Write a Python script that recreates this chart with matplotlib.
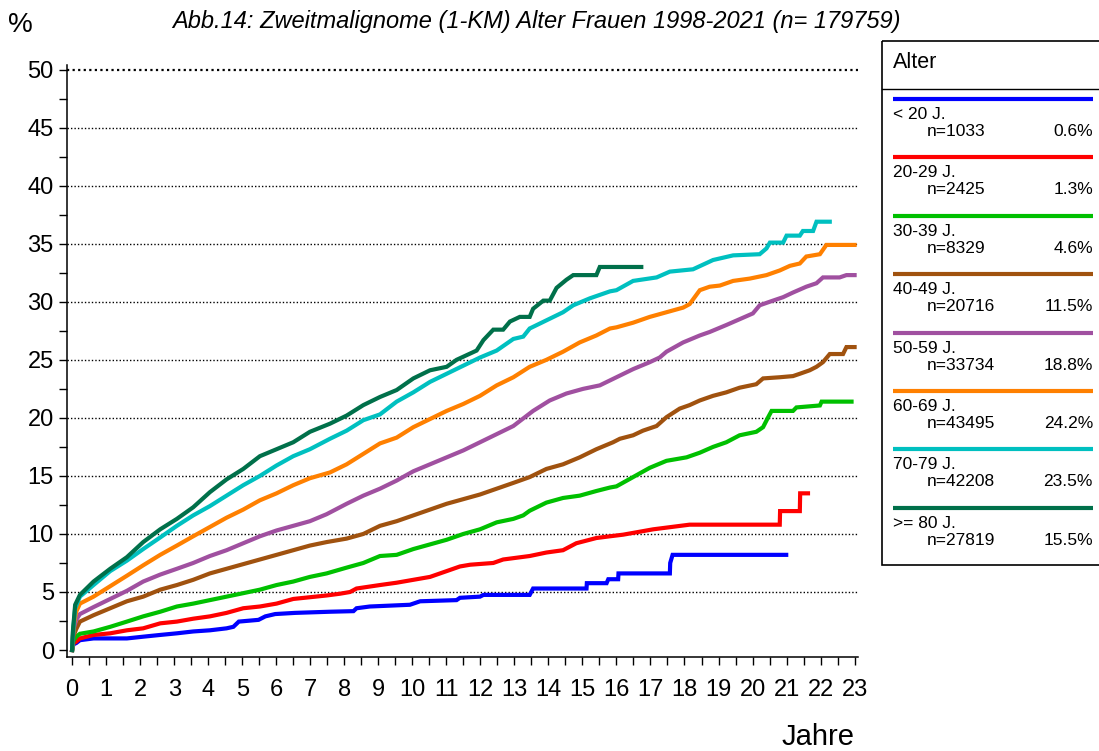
import numpy as np
import matplotlib.pyplot as plt
from matplotlib.ticker import MultipleLocator
from matplotlib.patches import Rectangle

plt.rcParams['font.family'] = ['Liberation Sans', 'DejaVu Sans']

title = 'Abb.14: Zweitmalignome (1-KM) Alter Frauen 1998-2021 (n= 179759)'
groups = ['< 20 J.', '20-29 J.', '30-39 J.', '40-49 J.', '50-59 J.', '60-69 J.', '70-79 J.', '>= 80 J.']
counts = [1033, 2425, 8329, 20716, 33734, 43495, 42208, 27819]
shares = ['0.6%', '1.3%', '4.6%', '11.5%', '18.8%', '24.2%', '23.5%', '15.5%']
colors = ['#0000ff', '#ff0000', '#00c000', '#a0520f', '#a050a0', '#ff8000', '#00c0c0', '#00704a']

# cumulative incidence curves (years, percent)
t_u20 = [0, 0.04, 0.12, 0.23, 0.63, 1.12, 1.61, 2.09, 2.59, 3.08, 3.56, 4.05, 4.54, 4.74, 4.90, 5.48,
         5.68, 5.97, 6.55, 7.58, 8.27, 8.36, 8.75, 9.93, 10.23, 11.30, 11.40, 11.99, 12.09, 13.45, 13.55,
         15.12, 15.13, 15.71, 15.76, 16.05, 16.06, 17.57, 17.58, 17.65, 20.99]
p_u20 = [0, 0.5, 0.6, 0.85, 1.0, 1.0, 1.0, 1.15, 1.3, 1.44, 1.6, 1.7, 1.87, 2.0, 2.45, 2.6,
         2.9, 3.1, 3.2, 3.3, 3.35, 3.6, 3.75, 3.9, 4.2, 4.3, 4.5, 4.6, 4.75, 4.75, 5.3,
         5.3, 5.76, 5.76, 6.1, 6.1, 6.6, 6.6, 7.5, 8.2, 8.2]

t_20 = [0, 0.04, 0.12, 0.23, 0.63, 1.12, 1.61, 2.09, 2.59, 3.08, 3.56, 4.05, 4.54, 5.03, 5.52, 6.01,
        6.50, 6.99, 7.48, 7.87, 8.17, 8.36, 9.05, 9.54, 10.03, 10.52, 11.01, 11.40, 11.70, 12.38, 12.67,
        13.45, 13.94, 14.43, 14.82, 15.41, 15.81, 16.2, 17.08, 18.15, 20.80, 20.81, 21.39, 21.40, 21.63]
p_20 = [0, 0.6, 0.72, 1.0, 1.3, 1.44, 1.7, 1.87, 2.3, 2.45, 2.7, 2.9, 3.2, 3.6, 3.75, 4.0,
        4.4, 4.55, 4.7, 4.85, 5.0, 5.3, 5.6, 5.8, 6.05, 6.3, 6.8, 7.2, 7.35, 7.5, 7.8,
        8.1, 8.4, 8.6, 9.2, 9.65, 9.8, 9.94, 10.4, 10.8, 10.8, 11.97, 11.97, 13.5, 13.5]

t_30 = [0, 0.04, 0.12, 0.23, 0.63, 1.12, 1.61, 2.09, 2.59, 3.08, 3.56, 4.05, 4.54, 5.03, 5.52, 6.01,
        6.50, 6.99, 7.48, 8.07, 8.56, 9.05, 9.54, 10.03, 10.52, 11.01, 11.50, 11.99, 12.48, 12.97, 13.26,
        13.45, 13.94, 14.43, 14.92, 15.41, 15.81, 16.0, 16.49, 16.98, 17.47, 18.06, 18.45, 18.84, 19.23,
        19.62, 20.11, 20.31, 20.46, 20.56, 21.19, 21.29, 21.98, 22.03, 22.91]
p_30 = [0, 0.8, 1.15, 1.4, 1.6, 2.0, 2.45, 2.9, 3.3, 3.75, 4.0, 4.3, 4.6, 4.9, 5.2, 5.6,
        5.9, 6.3, 6.6, 7.1, 7.5, 8.1, 8.2, 8.7, 9.1, 9.5, 10.0, 10.4, 11.0, 11.3, 11.6,
        12.0, 12.7, 13.1, 13.3, 13.7, 14.0, 14.1, 14.9, 15.7, 16.3, 16.6, 17.0, 17.5, 17.9,
        18.5, 18.8, 19.2, 20.06, 20.6, 20.6, 20.9, 21.07, 21.4, 21.4]

t_40 = [0, 0.04, 0.12, 0.23, 0.63, 1.12, 1.61, 2.09, 2.59, 3.08, 3.56, 4.05, 4.54, 5.03, 5.52, 6.01,
        6.50, 6.99, 7.48, 8.07, 8.56, 9.05, 9.54, 10.03, 10.52, 11.01, 11.50, 11.99, 12.48, 12.97, 13.45,
        13.94, 14.43, 14.92, 15.41, 15.9, 16.1, 16.49, 16.78, 17.18, 17.47, 17.86, 18.15, 18.45, 18.84,
        19.23, 19.62, 20.11, 20.31, 20.80, 21.19, 21.39, 21.68, 21.88, 22.07, 22.27, 22.66, 22.76, 23.0]
p_40 = [0, 1.2, 1.8, 2.45, 3.0, 3.6, 4.2, 4.6, 5.2, 5.6, 6.05, 6.6, 7.0, 7.4, 7.8, 8.2,
        8.6, 9.0, 9.3, 9.6, 10.0, 10.7, 11.1, 11.6, 12.1, 12.6, 13.0, 13.4, 13.9, 14.4, 14.9,
        15.6, 16.0, 16.6, 17.3, 17.9, 18.2, 18.5, 18.9, 19.3, 20.06, 20.8, 21.1, 21.5, 21.9,
        22.2, 22.6, 22.9, 23.4, 23.5, 23.6, 23.8, 24.1, 24.4, 24.8, 25.5, 25.5, 26.1, 26.1]

t_50 = [0, 0.04, 0.12, 0.23, 0.63, 1.12, 1.61, 2.09, 2.59, 3.08, 3.56, 4.05, 4.54, 5.03, 5.52, 6.01,
        6.50, 6.99, 7.48, 8.07, 8.56, 9.05, 9.54, 10.03, 10.52, 11.01, 11.50, 11.99, 12.48, 12.97, 13.55,
        14.04, 14.53, 15.02, 15.51, 16.0, 16.49, 16.98, 17.27, 17.47, 17.96, 18.45, 18.74, 19.23, 19.62,
        20.01, 20.21, 20.60, 20.90, 21.19, 21.58, 21.88, 22.07, 22.56, 22.76, 23.0]
p_50 = [0, 1.8, 2.6, 3.1, 3.7, 4.4, 5.1, 5.9, 6.5, 7.0, 7.5, 8.1, 8.6, 9.2, 9.8, 10.3,
        10.7, 11.1, 11.7, 12.6, 13.3, 13.9, 14.6, 15.4, 16.0, 16.6, 17.2, 17.9, 18.6, 19.3, 20.6,
        21.5, 22.1, 22.5, 22.8, 23.5, 24.2, 24.8, 25.2, 25.7, 26.5, 27.1, 27.4, 28.0, 28.5,
        29.0, 29.7, 30.1, 30.4, 30.8, 31.3, 31.6, 32.1, 32.1, 32.3, 32.3]

t_60 = [0, 0.04, 0.12, 0.23, 0.63, 1.12, 1.61, 2.09, 2.59, 3.08, 3.56, 4.05, 4.54, 5.03, 5.52, 6.01,
        6.50, 6.99, 7.58, 8.07, 8.56, 9.05, 9.54, 10.03, 10.52, 11.01, 11.50, 11.99, 12.48, 12.97, 13.45,
        13.94, 14.43, 14.92, 15.41, 15.81, 16.0, 16.49, 16.98, 17.47, 17.96, 18.15, 18.45, 18.74, 19.04,
        19.43, 19.92, 20.41, 20.80, 21.10, 21.39, 21.58, 21.98, 22.17, 23.0]
p_60 = [0, 2.0, 3.3, 4.0, 4.6, 5.5, 6.4, 7.3, 8.2, 9.0, 9.8, 10.6, 11.4, 12.1, 12.9, 13.5,
        14.2, 14.8, 15.3, 16.0, 16.9, 17.8, 18.3, 19.2, 19.9, 20.6, 21.2, 21.9, 22.8, 23.5, 24.4,
        25.0, 25.7, 26.5, 27.1, 27.7, 27.8, 28.2, 28.7, 29.1, 29.5, 29.8, 31.0, 31.3, 31.4,
        31.8, 32.0, 32.3, 32.7, 33.1, 33.3, 33.9, 34.1, 34.9, 34.9]

t_70 = [0, 0.04, 0.09, 0.23, 0.63, 1.12, 1.61, 2.09, 2.59, 3.08, 3.56, 4.05, 4.54, 5.03, 5.52, 6.01,
        6.50, 6.99, 7.58, 8.07, 8.56, 9.05, 9.54, 10.03, 10.52, 11.01, 11.50, 11.99, 12.48, 12.97, 13.26,
        13.45, 13.94, 14.43, 14.73, 15.22, 15.81, 16.00, 16.49, 17.18, 17.57, 18.25, 18.84, 19.43, 20.21,
        20.41, 20.51, 20.90, 21.0, 21.39, 21.48, 21.78, 21.88, 22.27]
p_70 = [0, 2.0, 3.6, 4.6, 5.6, 6.8, 7.7, 8.7, 9.7, 10.7, 11.6, 12.4, 13.3, 14.2, 15.0, 15.9,
        16.7, 17.3, 18.2, 18.9, 19.8, 20.3, 21.4, 22.2, 23.1, 23.8, 24.5, 25.2, 25.8, 26.8, 27.0,
        27.7, 28.4, 29.1, 29.7, 30.3, 30.9, 31.0, 31.8, 32.1, 32.6, 32.8, 33.6, 34.0, 34.1,
        34.6, 35.1, 35.1, 35.7, 35.7, 36.1, 36.1, 36.9, 36.9]

t_80 = [0, 0.02, 0.09, 0.23, 0.63, 1.12, 1.61, 2.09, 2.59, 3.08, 3.56, 4.05, 4.54, 5.03, 5.52, 6.01,
        6.50, 6.99, 7.58, 8.07, 8.56, 9.05, 9.54, 10.03, 10.52, 11.01, 11.30, 11.89, 12.09, 12.38, 12.67,
        12.87, 13.16, 13.45, 13.55, 13.85, 14.04, 14.24, 14.53, 14.73, 15.41, 15.51, 16.73]
p_80 = [0, 1.5, 3.9, 4.75, 5.9, 7.0, 8.0, 9.3, 10.4, 11.3, 12.3, 13.6, 14.7, 15.6, 16.7, 17.3,
        17.9, 18.8, 19.5, 20.2, 21.1, 21.8, 22.4, 23.4, 24.1, 24.4, 25.0, 25.8, 26.7, 27.6, 27.6,
        28.3, 28.7, 28.7, 29.4, 30.1, 30.1, 31.2, 31.9, 32.3, 32.3, 33.0, 33.0]

times = [t_u20, t_20, t_30, t_40, t_50, t_60, t_70, t_80]
values = [p_u20, p_20, p_30, p_40, p_50, p_60, p_70, p_80]

fig = plt.figure(figsize=(10.99, 7.51), dpi=100)
ax = fig.add_axes([67 / 1099, 1 - 657 / 751, 791 / 1099, 592 / 751])

for lev in np.arange(5, 51, 5):
    ax.axhline(lev, color='black', lw=1.6 if lev == 50 else 1.0, ls=(0, (1, 1.5)), zorder=1)

for t, p, c in zip(times, values, colors):
    ax.plot(t, p, color=c, lw=3, solid_joinstyle='miter', zorder=3)

ax.set_xlim(-0.15, 23.1)
ax.set_ylim(-0.6, 50.4)
ax.spines['top'].set_visible(False)
ax.spines['right'].set_visible(False)
ax.spines['left'].set_linewidth(1.1)
ax.spines['bottom'].set_linewidth(1.1)
ax.xaxis.set_major_locator(MultipleLocator(1))
ax.xaxis.set_minor_locator(MultipleLocator(0.5))
ax.yaxis.set_major_locator(MultipleLocator(5))
ax.yaxis.set_minor_locator(MultipleLocator(2.5))
ax.tick_params(axis='both', which='both', direction='out', length=5.5, width=1, labelsize=17)
ax.tick_params(axis='x', which='major', pad=10)
ax.tick_params(axis='y', which='major', pad=4)

fig.text(20 / 1099, 1 - 25 / 751, '%', fontsize=20, ha='center', va='center')
fig.text(855 / 1099, 1 - 745 / 751, 'Jahre', fontsize=21, ha='right', va='baseline')
fig.text(536 / 1099, 1 - 28 / 751, title, fontsize=17, style='italic', ha='center', va='baseline')

# legend box drawn in pixel coordinates
lg = fig.add_axes([0, 0, 1, 1], facecolor='none')
lg.set_xlim(0, 1099)
lg.set_ylim(751, 0)
lg.axis('off')
lg.add_patch(Rectangle((882, 41), 230, 524, fill=False, ec='black', lw=1.2))
lg.plot([882, 1099], [89, 89], color='black', lw=1)
lg.text(893, 63, 'Alter', fontsize=15.5, va='center')
for i, (g, n, s, c) in enumerate(zip(groups, counts, shares, colors)):
    y0 = 99 + i * 58.4
    lg.plot([893, 1093], [y0, y0], color=c, lw=3, solid_capstyle='butt')
    lg.text(893, y0 + 20, g, fontsize=12.5, va='baseline')
    lg.text(927, y0 + 37, 'n=%d' % n, fontsize=12.5, va='baseline')
    lg.text(1093, y0 + 37, s, fontsize=12.5, va='baseline', ha='right')

fig.savefig('out.png', dpi=100)
